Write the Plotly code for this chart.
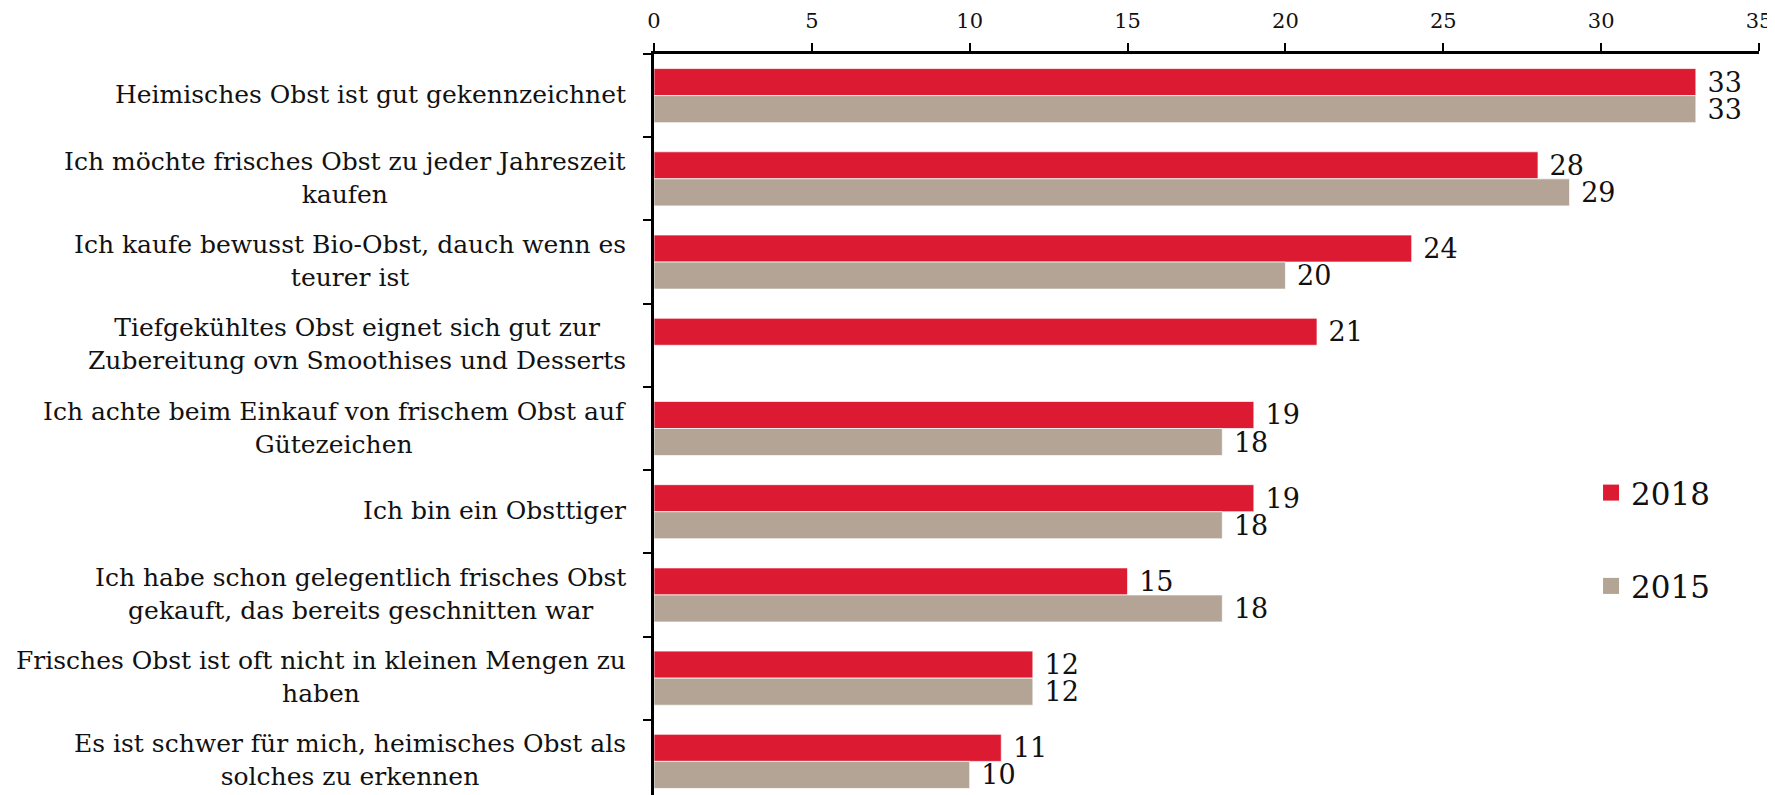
import plotly.graph_objects as go

categories = [
    "Heimisches Obst ist gut gekennzeichnet",
    "Ich möchte frisches Obst zu jeder Jahreszeit<br>kaufen",
    "Ich kaufe bewusst Bio-Obst, dauch wenn es<br>teurer ist",
    "Tiefgekühltes Obst eignet sich gut zur<br>Zubereitung ovn Smoothises und Desserts",
    "Ich achte beim Einkauf von frischem Obst auf<br>Gütezeichen",
    "Ich bin ein Obsttiger",
    "Ich habe schon gelegentlich frisches Obst<br>gekauft, das bereits geschnitten war",
    "Frisches Obst ist oft nicht in kleinen Mengen zu<br>haben",
    "Es ist schwer für mich, heimisches Obst als<br>solches zu erkennen",
]
values_2018 = [33, 28, 24, 21, 19, 19, 15, 12, 11]
values_2015 = [33, 29, 20, None, 18, 18, 18, 12, 10]
x_ticks = [0, 5, 10, 15, 20, 25, 30, 35]

RED = "#DC1B32"
GRAY = "#B3A495"
FONT = "DejaVu Serif"

fig = go.Figure()
for name, vals, col in [("2018", values_2018, RED), ("2015", values_2015, GRAY)]:
    fig.add_trace(go.Bar(
        y=categories, x=vals, orientation="h", name=name,
        marker=dict(color=col, line=dict(color="rgba(255,255,255,0.7)", width=1)),
        text=[(" " + str(v)) if v is not None else "" for v in vals],
        textposition="outside", cliponaxis=False, constraintext="none",
        textfont=dict(family=FONT, size=27, color="#111111"),
        showlegend=False, hoverinfo="x+y",
    ))

for name, col in [("2018", RED), ("2015", GRAY)]:
    fig.add_trace(go.Scatter(
        x=[None], y=[None], mode="markers", name=name,
        marker=dict(symbol="square", size=18, color=col),
        legendgroup=name, showlegend=True,
    ))

for c in categories:
    fig.add_annotation(
        x=0, xref="paper", y=c, yref="y", text=c, showarrow=False,
        xanchor="right", yanchor="middle", align="center", xshift=-26, yshift=1,
        font=dict(family=FONT, size=25, color="#111111"),
    )

fig.update_layout(
    width=1775, height=795,
    margin=dict(l=646, r=24, t=46, b=0),
    paper_bgcolor="white", plot_bgcolor="white",
    barmode="group", bargap=0.35, bargroupgap=0,
    font=dict(family=FONT, color="#111111"),
    legend=dict(
        x=0.848, xanchor="left", y=0.45, yanchor="top",
        font=dict(family=FONT, size=31, color="#111111"),
        tracegroupgap=50, itemsizing="trace", bgcolor="rgba(0,0,0,0)",
    ),
    xaxis=dict(
        side="top", range=[0, 35], tickvals=x_ticks, ticktext=[str(t) for t in x_ticks],
        showgrid=False, zeroline=False, showline=True, linecolor="black", linewidth=3,
        ticks="outside", ticklen=8, tickwidth=2, tickcolor="black",
        tickfont=dict(family=FONT, size=21, color="#111111"), ticklabelstandoff=7,
    ),
    yaxis=dict(
        autorange="reversed", showgrid=False, showline=True, linecolor="black", linewidth=3,
        ticks="outside", ticklen=8, tickwidth=2, tickcolor="black",
        tickson="boundaries", showticklabels=False,
    ),
)

fig.write_html("out.html")
